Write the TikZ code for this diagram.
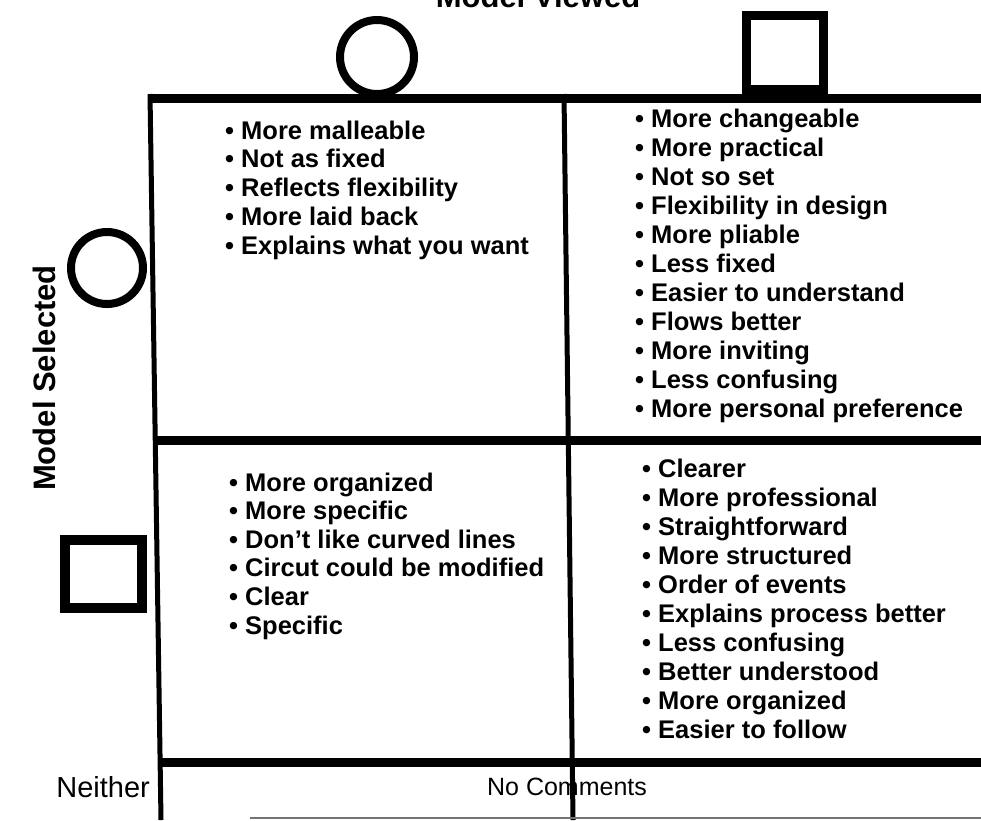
\documentclass[tikz,border=0pt]{standalone}
\usepackage{fontspec}
\setmainfont{Liberation Sans}
\begin{document}
\begin{tikzpicture}[x=1pt,y=-1pt,
  hline/.style={line width=9pt},
  vline/.style={line width=5pt},
  thin/.style={line width=1.5pt, black!55},
  sym/.style={draw, line width=8.5pt, inner sep=0pt},
  item/.style={font=\fontsize{25.5}{29}\selectfont\bfseries, anchor=base west, inner sep=0pt},
  lab/.style={font=\fontsize{29}{34}\selectfont, inner sep=0pt, anchor=base},
  axis/.style={font=\fontsize{31}{36}\selectfont\bfseries, inner sep=0pt, anchor=base}]
\useasboundingbox (0,0) rectangle (981,820);
% grid coordinates
\coordinate (L0) at (150,94);
\coordinate (L1) at (161,820);
\coordinate (M0) at (564,94);
\coordinate (M1) at (573,820);
\coordinate (T0) at (148,98);
\coordinate (T1) at (981,98);
\coordinate (C0) at (153,440);
\coordinate (C1) at (981,440);
\coordinate (B0) at (159,762);
\coordinate (B1) at (981,762);
\coordinate (E0) at (250,818);
\coordinate (E1) at (981,818);
% grid
\draw[vline] (L0) -- (L1);
\draw[vline] (M0) -- (M1);
\draw[hline] (T0) -- (T1);
\draw[hline] (C0) -- (C1);
\draw[hline] (B0) -- (B1);
\draw[thin] (E0) -- (E1);
% axis titles
\node[axis] (viewed) at (538,7) {Model Viewed};
\node[axis, rotate=90] (selected) at (55,378) {Model Selected};
% symbols
\node[sym, circle, minimum size=74pt, line width=8pt] (topC) at (377,57) {};
\node[sym, rectangle, minimum width=77pt, minimum height=74pt, line width=9pt] (topS) at (785,52.5) {};
\node[sym, circle, minimum size=72pt, line width=8pt] (selC) at (107,268) {};
\node[sym, rectangle, minimum width=77pt, minimum height=68pt, line width=10pt] (selS) at (103.5,574) {};
% top-left cell
\foreach \t [count=\i] in {More malleable, Not as fixed, Reflects flexibility, More laid back, Explains what you want}
  \node[item] (tl\i) at (225,{139+28.9*(\i-1)}) {• \t};
% top-right cell
\foreach \t [count=\i] in {More changeable, More practical, Not so set, Flexibility in design, More pliable, Less fixed, Easier to understand, Flows better, More inviting, Less confusing, More personal preference}
  \node[item] (tr\i) at (635,{127+29*(\i-1)}) {• \t};
% bottom-left cell
\foreach \t [count=\i] in {More organized, More specific, Don't like curved lines, Circut could be modified, Clear, Specific}
  \node[item] (bl\i) at (229,{491+28.6*(\i-1)}) {• \t};
% bottom-right cell
\foreach \t [count=\i] in {Clearer, More professional, Straightforward, More structured, Order of events, Explains process better, Less confusing, Better understood, More organized, Easier to follow}
  \node[item] (br\i) at (642,{477+29*(\i-1)}) {• \t};
% neither row
\node[lab, anchor=base east] (neither) at (150,797) {Neither};
\node[lab, font=\fontsize{25}{30}\selectfont] (nocom) at (567,795) {No Comments};
\end{tikzpicture}
\end{document}
